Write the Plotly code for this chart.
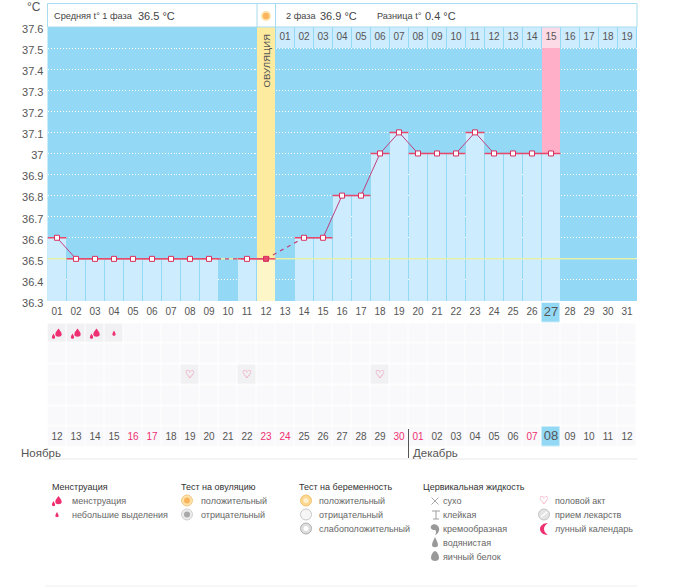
import plotly.graph_objects as go

W, H = 675, 587
FONT = "Liberation Sans"
GREY = "#555555"

days = list(range(1, 32))
temps = [36.6, 36.5, 36.5, 36.5, 36.5, 36.5, 36.5, 36.5, 36.5, None, 36.5, 36.5, None, 36.6, 36.6,
         36.8, 36.8, 37.0, 37.1, 37.0, 37.0, 37.0, 37.1, 37.0, 37.0, 37.0, 37.0, None, None, None, None]
coverline = 36.5
ovulation_day = 12
today = 27
y_ticks = [36.3, 36.4, 36.5, 36.6, 36.7, 36.8, 36.9, 37.0, 37.1, 37.2, 37.3, 37.4, 37.5, 37.6]
y_labels = ["36.3", "36.4", "36.5", "36.6", "36.7", "36.8", "36.9", "37", "37.1", "37.2", "37.3", "37.4", "37.5", "37.6"]
phase2_days = list(range(13, 32))
phase2_labels = [f"{d:02d}" for d in range(1, 20)]
cycle_labels = [f"{d:02d}" for d in days]
date_labels = ["12", "13", "14", "15", "16", "17", "18", "19", "20", "21", "22", "23", "24", "25", "26", "27",
               "28", "29", "30", "01", "02", "03", "04", "05", "06", "07", "08", "09", "10", "11", "12"]
holiday_days = [5, 6, 12, 13, 19, 20, 26]
heavy_days = [1, 2, 3]
light_days = [4]
sex_days = [8, 11, 18]

BAND = "#93d8f5"
LIGHT = "#cdecfe"
YELLOW = "#fdeb9f"
YELLOW2 = "#fdf6c8"
PINK = "#ffb0c8"
PINK2 = "#fddbe6"
RED = "#e8486a"
LINE = "#c0407f"
ACCENT = "#ee2f70"


def px(x):
    return x / W


def py(y):
    return 1 - y / H


def label(text, x, y, size=9, color=GREY, anchor="left", angle=0):
    return dict(text=text, x=px(x), y=py(y), xref="paper", yref="paper", showarrow=False,
                xanchor=anchor, yanchor="middle", textangle=angle,
                xshift=0, yshift=0, borderpad=0, borderwidth=0,
                font=dict(family=FONT, size=size, color=color))


BIG_DROP = "M0,5 C1,3 3.2,2 3.2,-1 C3.2,-4 -3.2,-4 -3.2,-1 C-3.2,2 -1,3 0,5 Z"
SMALL_DROP = "M0,3 C0.7,1.5 1.6,0.7 1.6,-1 C1.6,-2.6 -1.6,-2.6 -1.6,-1 C-1.6,0.7 -0.7,1.5 0,3 Z"
MID_DROP = "M0,6 C1,3 3,1 3,-2 C3,-5 -3,-5 -3,-2 C-3,1 -1,3 0,6 Z"
EGG = "M0,6 C3,5 4,1 4,-1 C4,-5 -4,-5 -4,-1 C-4,1 -3,5 0,6 Z"


def shift(path, dx, dy):
    toks = path.replace(",", " ").split()
    res = []
    i = 0
    while i < len(toks):
        t = toks[i]
        if t == "Z":
            res.append("Z")
            i += 1
            continue
        if t[0] in "MC":
            res.append(t[0])
            toks[i] = t[1:]
        res.append(f"{float(toks[i]) + dx},{float(toks[i + 1]) + dy}")
        i += 2
    return " ".join(res)


def anchored(path, xa, ya, xref, yref, color, line=None, width=1):
    return dict(type="path", path=path, xref=xref, yref=yref, xsizemode="pixel", ysizemode="pixel",
                xanchor=xa, yanchor=ya, fillcolor=color, layer="above",
                line=dict(color=line or color, width=width if line else 0))


def disc(x, y, r, color, line=None, width=1):
    return dict(type="circle", xref="paper", yref="paper", xsizemode="pixel", ysizemode="pixel",
                xanchor=px(x), yanchor=py(y), x0=-r, x1=r, y0=-r, y1=r, fillcolor=color, layer="above",
                line=dict(color=line or color, width=width if line else 0))


def paper_icon(path, x, y, color, line=None, width=1):
    return anchored(path, px(x), py(y), "paper", "paper", color, line, width)


def rule(x0, y0, x1, y1, color, width=1):
    return dict(type="line", xref="paper", yref="paper", x0=px(x0), x1=px(x1), y0=py(y0), y1=py(y1),
                line=dict(color=color, width=width), layer="above")


fig = go.Figure()

# columns
col_days = [d for d, t in zip(days, temps) if t is not None and d != ovulation_day]
col_vals = [t - 36.3 for d, t in zip(days, temps) if t is not None and d != ovulation_day]
bw = 18 / 19
fig.add_bar(x=col_days, y=col_vals, base=36.3, width=bw, marker=dict(color=LIGHT, line_width=0))
fig.add_bar(x=[ovulation_day], y=[coverline - 36.3], base=36.3, width=bw, marker=dict(color=YELLOW2, line_width=0))
fig.add_bar(x=[ovulation_day], y=[37.6 - coverline], base=coverline, width=bw, marker=dict(color=YELLOW, line_width=0))
fig.add_bar(x=[today], y=[37.5 - temps[today - 1]], base=temps[today - 1], width=bw, marker=dict(color=PINK, line_width=0))
fig.add_bar(x=phase2_days, y=[0.1] * len(phase2_days), base=37.5, width=bw,
            marker=dict(color=[PINK2 if d == today else LIGHT for d in phase2_days], line_width=0))
fig.add_scatter(x=phase2_days, y=[37.55] * len(phase2_days), mode="text", text=phase2_labels,
                textfont=dict(family=FONT, size=10, color=GREY))

# coverline
fig.add_scatter(x=[0.5, 31.5], y=[coverline, coverline], mode="lines", line=dict(color="#e6f0a8", width=1.5))

# temperature lines
solid_x, solid_y, dash_x, dash_y = [], [], [], []
prev = None
for d, t in zip(days, temps):
    if t is None:
        continue
    if prev is not None:
        if d - prev[0] == 1:
            solid_x += [prev[0], d, None]
            solid_y += [prev[1], t, None]
        else:
            dash_x += [prev[0], d, None]
            dash_y += [prev[1], t, None]
    prev = (d, t)
fig.add_scatter(x=solid_x, y=solid_y, mode="lines", line=dict(color=LINE, width=1))
fig.add_scatter(x=dash_x, y=dash_y, mode="lines", line=dict(color=LINE, width=1.2, dash="4px,4px"))
pt_days = [d for d, t in zip(days, temps) if t is not None]
pt_vals = [t for t in temps if t is not None]
fig.add_scatter(x=pt_days, y=pt_vals, mode="markers",
                marker=dict(symbol="square", size=5,
                            color=[RED if d == ovulation_day else "white" for d in pt_days],
                            line=dict(color="#d8305e", width=1)),
                error_x=dict(type="constant", value=0.5, thickness=1.5, width=0, color=RED))

# calendar grid: row 0 = cycle day, 1-5 = symptoms, 6 = date
z = []
for r in range(7):
    row = []
    for d in days:
        if r in (0, 6):
            v = 2 if d == today else (None if r == 0 else 0)
        elif r == 1 and d in heavy_days + light_days:
            v = 1
        elif r == 3 and d in sex_days:
            v = 1
        else:
            v = 0
        row.append(v)
    z.append(row)
fig.add_heatmap(x=days, y=list(range(7)), z=z, xaxis="x", yaxis="y2", zmin=0, zmax=2, showscale=False,
                xgap=1, ygap=1.5, hoverinfo="skip",
                colorscale=[[0, "#f9f9fb"], [0.33, "#f9f9fb"], [0.33, "#f1f1f3"], [0.66, "#f1f1f3"], [0.66, BAND], [1, BAND]])
fig.add_scatter(x=days, y=[0] * 31, xaxis="x", yaxis="y2", mode="text", text=cycle_labels,
                textfont=dict(family=FONT, size=[13 if d == today else 10 for d in days], color=GREY))
fig.add_scatter(x=days, y=[6] * 31, xaxis="x", yaxis="y2", mode="text", text=date_labels,
                textfont=dict(family=FONT, size=[13 if d == today else 10 for d in days],
                              color=[ACCENT if d in holiday_days else GREY for d in days]))
fig.add_scatter(x=sex_days, y=[3] * len(sex_days), xaxis="x", yaxis="y2", mode="text", text=["♡"] * len(sex_days),
                textfont=dict(family="DejaVu Sans", size=11, color="#ee4d86"))

# tick-label-only axis, sits 2px below the grid like the original labels
fig.add_scatter(x=[None], y=[None], xaxis="x", yaxis="y3", mode="markers", hoverinfo="skip")

shapes = []
shapes.append(dict(type="rect", xref="paper", yref="paper", x0=px(47.5), x1=px(637), y0=py(301), y1=py(27),
                   fillcolor=BAND, line_width=0, layer="below"))
for d in heavy_days:
    shapes.append(anchored(shift(BIG_DROP, 1.5, 0), d, 1, "x", "y2", ACCENT))
    shapes.append(anchored(shift(SMALL_DROP, -3.5, -3), d, 1, "x", "y2", ACCENT))
for d in light_days:
    shapes.append(anchored(SMALL_DROP, d, 1, "x", "y2", ACCENT))

# header
shapes += [
    dict(type="rect", xref="paper", yref="paper", x0=px(47.5), x1=px(637), y0=py(27), y1=py(3.5),
         fillcolor="white", line=dict(color="#a8dcf0", width=1), layer="above"),
    rule(257, 3.5, 257, 27, "#a8dcf0"),
    rule(275.5, 3.5, 275.5, 27, "#a8dcf0"),
    disc(266, 16, 5, "#fde3a8"),
    disc(266, 16, 3.2, "#fbb45c"),
    # dividers
    rule(408.5, 429, 408.5, 458, "#555555"),
    rule(45, 459, 637, 459, "#e8e8e8"),
    rule(45, 586, 637, 586, "#eeeeee"),
    # legend: menstruation
    paper_icon(shift(BIG_DROP, 1.5, 0), 57, 501, ACCENT),
    paper_icon(shift(SMALL_DROP, -3.5, -3), 57, 501, ACCENT),
    paper_icon(SMALL_DROP, 57, 515, ACCENT),
    # ovulation test
    disc(187, 500.5, 5.5, "#fde3a8", "#f4c88a"), disc(187, 500.5, 3, "#fbb45c"),
    disc(187, 514.5, 5.5, "#ececec", "#d0d0d0"), disc(187, 514.5, 3, "#a8a8a8"),
    # pregnancy test
    disc(306, 500.5, 5.5, "#fdd890", "#f4c070"), disc(306, 500.5, 2.5, "#fff0d0"),
    disc(306, 514.5, 5.5, "#f6f6f6", "#c8c8c8"),
    disc(306, 528.5, 5.5, "#dddddd", "#b0b0b0"), disc(306, 528.5, 2.5, "#ffffff"),
    # cervical fluid
    paper_icon("M-3.5,3.5 L3.5,-3.5 M-3.5,-3.5 L3.5,3.5", 435, 501, "rgba(0,0,0,0)", "#a8a8a8"),
    paper_icon("M-4,4 L4,4 M0,4 L0,-4 M-3,-4 L3,-4", 436, 515, "rgba(0,0,0,0)", "#a0a0a0"),
    paper_icon("M-4,3 C-2,6 3,5 4,1 C5,-2 2,-6 0,-6 C2,-3 1,-1 -1,-1 C-3,-1 -5,1 -4,3 Z", 435, 529, "#999999"),
    paper_icon(MID_DROP, 435, 543, "#999999"),
    paper_icon(EGG, 435, 557, "#999999"),
    # misc
    disc(544, 514.5, 5.5, "#e4e4e4", "#c4c4c4"),
    rule(541, 517, 547, 512, "#ffffff", 1.5),
    paper_icon("M3,6 C-2,6 -5,3 -5,0 C-5,-3 -2,-6 3,-6 C0,-4 -1,-2 -1,0 C-1,2 0,4 3,6 Z", 545, 529, ACCENT),
]

annotations = [
    label("°C", 34, 7, 12, anchor="center"),
    label("Средняя t° 1 фаза", 54, 16, 9.2, "#444444"),
    label("36.5 °C", 138, 16, 11, "#444444"),
    label("2 фаза", 286, 16, 9.2, "#444444"),
    label("36.9 °C", 320, 16, 11, "#444444"),
    label("Разница t°", 377, 16, 9.2, "#444444"),
    label("0.4 °C", 425, 16, 11, "#444444"),
    label("ОВУЛЯЦИЯ", 266, 60.5, 9.6, GREY, "center", -90),
    label("Ноябрь", 21, 453, 11.5),
    label("Декабрь", 413, 453, 11.5),
    label("Менструация", 52, 487, 9, "#333333"),
    label("менструация", 72, 501, 9, "#666666"),
    label("небольшие выделения", 72, 515, 9, "#666666"),
    label("Тест на овуляцию", 181, 487, 9, "#333333"),
    label("положительный", 201, 501, 9, "#666666"),
    label("отрицательный", 201, 515, 9, "#666666"),
    label("Тест на беременность", 299, 487, 9, "#333333"),
    label("положительный", 319, 501, 9, "#666666"),
    label("отрицательный", 319, 515, 9, "#666666"),
    label("слабоположительный", 319, 529, 9, "#666666"),
    label("Цервикальная жидкость", 423, 487, 9, "#333333"),
    label("сухо", 443, 501, 9, "#666666"),
    label("клейкая", 443, 515, 9, "#666666"),
    label("кремообразная", 443, 529, 9, "#666666"),
    label("водянистая", 443, 543, 9, "#666666"),
    label("яичный белок", 443, 557, 9, "#666666"),
    label("♡", 544, 500.5, 11, "#ee4d86", "center"),
    label("половой акт", 555, 501, 9, "#666666"),
    label("прием лекарств", 555, 515, 9, "#666666"),
    label("лунный календарь", 555, 529, 9, "#666666"),
]
for a in annotations:
    if a["text"] == "♡":
        a["font"]["family"] = "DejaVu Sans"

fig.update_layout(
    width=W, height=H, margin=dict(l=0, r=0, t=0, b=0, autoexpand=False), showlegend=False, barmode="overlay",
    paper_bgcolor="white", plot_bgcolor="rgba(0,0,0,0)", shapes=shapes, annotations=annotations,
    font=dict(family=FONT, size=10, color=GREY),
    xaxis=dict(domain=[px(47.5), px(636.5)], range=[0.5, 31.5], showgrid=False, zeroline=False, automargin=False,
               showticklabels=False, ticks="", showline=False, anchor="y"),
    yaxis=dict(domain=[py(301), py(27)], range=[36.3, 37.6], showticklabels=False, automargin=False,
               showgrid=True, gridcolor="white", griddash="1px,2px", gridwidth=1, zeroline=False, showline=False,
               tickmode="array", tickvals=y_ticks, ticks=""),
    yaxis2=dict(domain=[py(447.5), py(302.5)], range=[6.5, -0.5], showgrid=False, zeroline=False, automargin=False,
                showticklabels=False, ticks="", showline=False, anchor="x"),
    yaxis3=dict(domain=[py(303), py(29)], range=[36.3, 37.6], tickmode="array", tickvals=y_ticks, ticktext=y_labels,
                showgrid=False, zeroline=False, showline=False, ticks="", ticklabelstandoff=3, anchor="x", automargin=False,
                tickfont=dict(family=FONT, size=11, color=GREY)),
)

fig.write_html("out.html", post_script="document.body.style.margin='0';", config={"displayModeBar": False})
